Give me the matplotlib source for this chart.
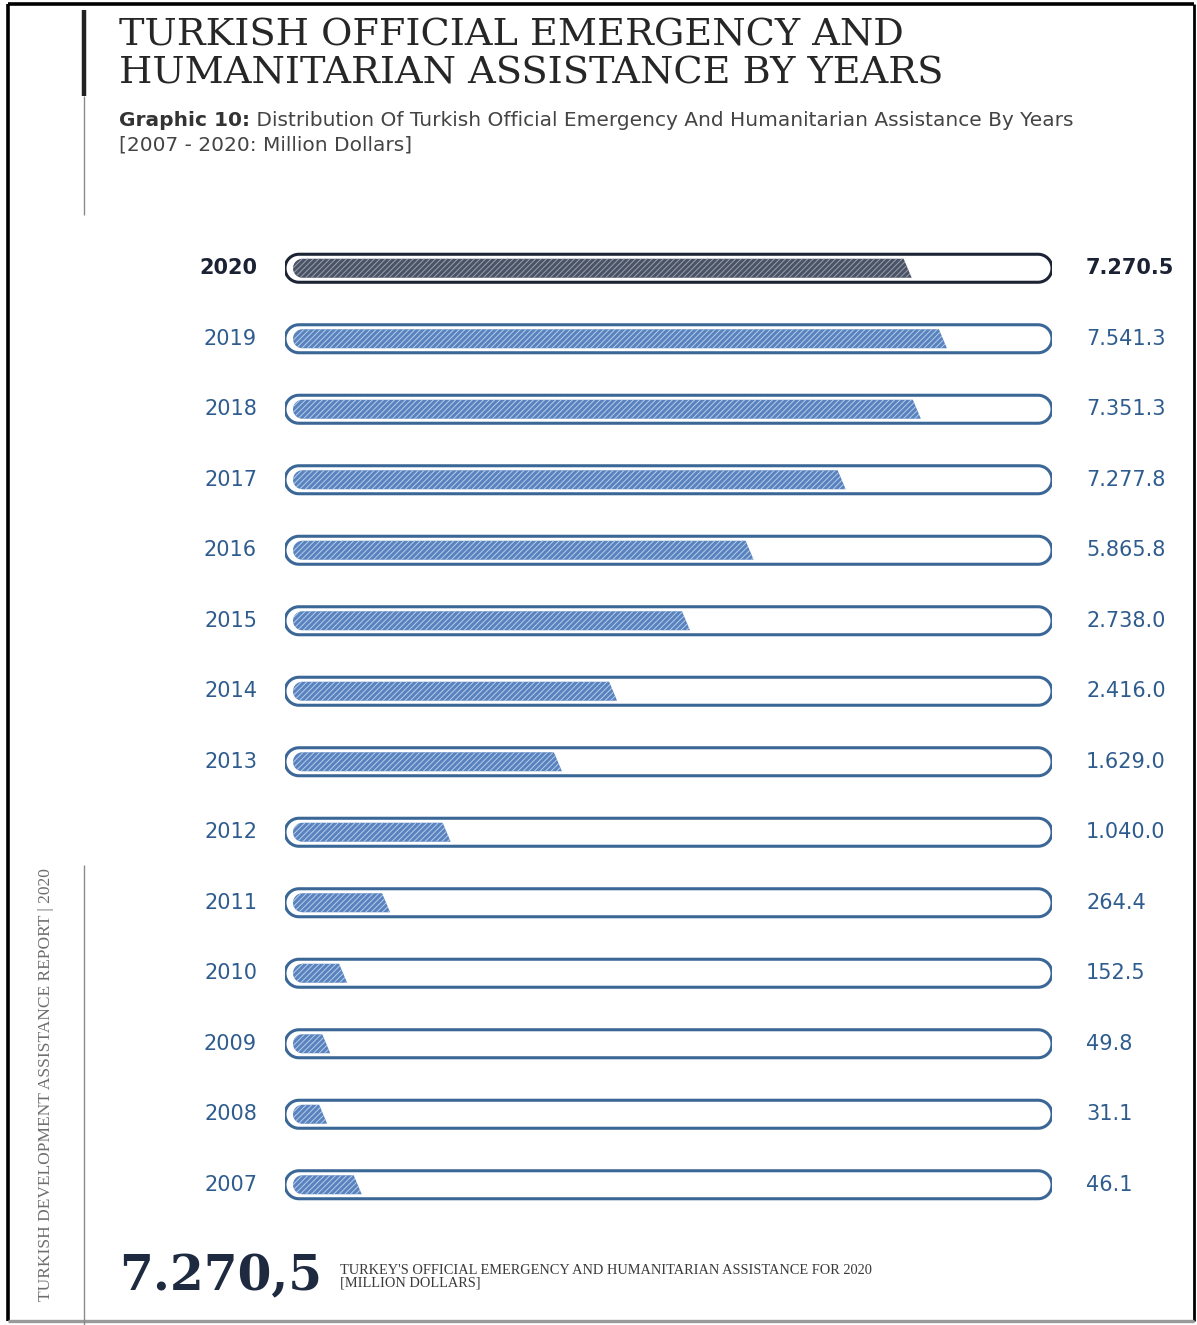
import numpy as np
import matplotlib
matplotlib.use("Agg")
import matplotlib.pyplot as plt
from matplotlib.patches import Polygon
from matplotlib.transforms import offset_copy

# ---------------- data ----------------
years = ["2020", "2019", "2018", "2017", "2016", "2015", "2014",
         "2013", "2012", "2011", "2010", "2009", "2008", "2007"]
value_labels = ["7.270.5", "7.541.3", "7.351.3", "7.277.8", "5.865.8", "2.738.0",
                "2.416.0", "1.629.0", "1.040.0", "264.4", "152.5", "49.8", "31.1", "46.1"]
# visual fill of each track as drawn in the infographic (percent of track length)
fill_pct = [81.7, 86.3, 82.9, 73.1, 61.1, 52.8, 43.3, 36.1, 21.6, 13.7, 8.1, 5.9, 5.5, 10.0]

title_lines = ["TURKISH OFFICIAL EMERGENCY AND", "HUMANITARIAN ASSISTANCE BY YEARS"]
subtitle_bold = "Graphic 10:"
subtitle_rest = " Distribution Of Turkish Official Emergency And Humanitarian Assistance By Years"
subtitle_line2 = "[2007 - 2020: Million Dollars]"
big_number = "7.270,5"
big_caption = ["TURKEY'S OFFICIAL EMERGENCY AND HUMANITARIAN ASSISTANCE FOR 2020", "[MILLION DOLLARS]"]
side_text = "TURKISH DEVELOPMENT ASSISTANCE REPORT | 2020"

# ---------------- style ----------------
W, H = 1197, 1325
BLUE_TXT = "#2f5c8e"
BLUE_EDGE = "#3b6796"
BLUE_FILL = "#5883bf"
BLUE_HATCH = "#b9cde8"
NAVY_TXT = "#1b2233"
NAVY_EDGE = "#1c2333"
GRAY_FILL = "#4a5366"
GRAY_HATCH = "#9aa1ad"
plt.rcParams["hatch.linewidth"] = 0.7

fig = plt.figure(figsize=(W / 100, H / 100), dpi=100)
bg = fig.add_axes([0, 0, 1, 1])
bg.set_xlim(0, W)
bg.set_ylim(H, 0)
bg.axis("off")

# frame
bg.plot([8, 8], [4, 1321], color="black", lw=2.6, solid_capstyle="butt")
bg.plot([8, 1194], [4, 4], color="black", lw=2.6, solid_capstyle="butt")
bg.plot([1194, 1194], [4, 1321], color="black", lw=2.0, solid_capstyle="butt")
bg.plot([8, 1194], [1321, 1321], color="#9a9a9a", lw=2.4, solid_capstyle="butt")

# decorative left lines
bg.plot([84, 84], [10, 96], color="#222222", lw=3.2, solid_capstyle="butt")
bg.plot([84, 84], [96, 215], color="#8a8a8a", lw=1.0, solid_capstyle="butt")
bg.plot([84, 84], [865, 1325], color="#8a8a8a", lw=1.0, solid_capstyle="butt")

# titles
bg.text(119, 36, title_lines[0], fontsize=27.5, family="DejaVu Serif", color="#262626",
        va="center", ha="left")
bg.text(119, 74, title_lines[1], fontsize=27.5, family="DejaVu Serif", color="#262626",
        va="center", ha="left")
t1 = bg.text(119, 120, subtitle_bold, fontsize=14.5, family="DejaVu Sans", weight="bold",
             color="#333333", va="center", ha="left")
fig.canvas.draw()
bb = t1.get_window_extent()
bg.text(119 + bb.width, 120, subtitle_rest, fontsize=14.5, family="DejaVu Sans",
        color="#444444", va="center", ha="left")
bg.text(119, 145, subtitle_line2, fontsize=14.5, family="DejaVu Sans",
        color="#444444", va="center", ha="left")

# side rotated text
bg.text(46, 1301, side_text, rotation=90, fontsize=12.5, family="Liberation Serif",
        color="#6e6e6e", va="bottom", ha="center")

# big number + caption
bg.text(119, 1277, big_number, fontsize=35, family="DejaVu Serif", weight="bold",
        color="#1e2a40", va="center", ha="left")
bg.text(340, 1270, big_caption[0], fontsize=10.4, family="Liberation Serif",
        color="#3a3a3a", va="center", ha="left")
bg.text(340, 1283, big_caption[1], fontsize=10.4, family="Liberation Serif",
        color="#3a3a3a", va="center", ha="left")

# ---------------- bars ----------------
ax_left, ax_w = 285, 767
ax_top, ax_bot = 233, 1220
n = len(years)
ax = fig.add_axes([ax_left / W, 1 - ax_bot / H, ax_w / W, (ax_bot - ax_top) / H])
ax.set_xlim(0, 100)
ax.set_ylim(n - 0.5, -0.5)
ax.axis("off")
sx = ax_w / 100.0            # px per x unit
sy = (ax_bot - ax_top) / n   # px per row


def P(xd, yd, dx=0.0, dy=0.0):
    return (xd + dx / sx, yd + dy / sy)


def capsule_pts(x0, x1, yc, h):
    """Capsule between data x0..x1 (outer extents), height h px."""
    r = h / 2
    pts = []
    for t in np.linspace(np.pi / 2, 3 * np.pi / 2, 40):   # left cap
        pts.append(P(x0, yc, r + r * np.cos(t), -r * np.sin(t)))
    for t in np.linspace(-np.pi / 2, np.pi / 2, 40):      # right cap
        pts.append(P(x1, yc, -r + r * np.cos(t), -r * np.sin(t)))
    return pts


def fill_pts(x0, xend, yc, h, inset, slant):
    r = h / 2
    pts = []
    for t in np.linspace(np.pi / 2, 3 * np.pi / 2, 30):
        pts.append(P(x0, yc, inset + r + r * np.cos(t), -r * np.sin(t)))
    pts.append(P(xend, yc, 0, r))
    pts.append(P(xend, yc, -slant, -r))
    return pts


for i, (yr, lab, f) in enumerate(zip(years, value_labels, fill_pct)):
    hl = (i == 0)
    edge = NAVY_EDGE if hl else BLUE_EDGE
    fc = GRAY_FILL if hl else BLUE_FILL
    hc = GRAY_HATCH if hl else BLUE_HATCH
    tc = NAVY_TXT if hl else BLUE_TXT
    ax.add_patch(Polygon(capsule_pts(0, 100, i, 28), closed=True, facecolor="white",
                         edgecolor=edge, lw=2.2, zorder=2))
    ax.add_patch(Polygon(fill_pts(0, f, i, 19, 8, 8), closed=True, facecolor=fc,
                         edgecolor=hc, lw=0, hatch="//////", zorder=3))
    ax.text(0, i, yr, transform=offset_copy(ax.transData, fig, x=-28, y=0, units="dots"),
            ha="right", va="center", fontsize=15, family="DejaVu Sans",
            weight="bold" if hl else "normal", color=tc)
    ax.text(100, i, lab, transform=offset_copy(ax.transData, fig, x=34, y=0, units="dots"),
            ha="left", va="center", fontsize=15, family="DejaVu Sans",
            weight="bold" if hl else "normal", color=tc)

fig.savefig("out.png", dpi=100)
